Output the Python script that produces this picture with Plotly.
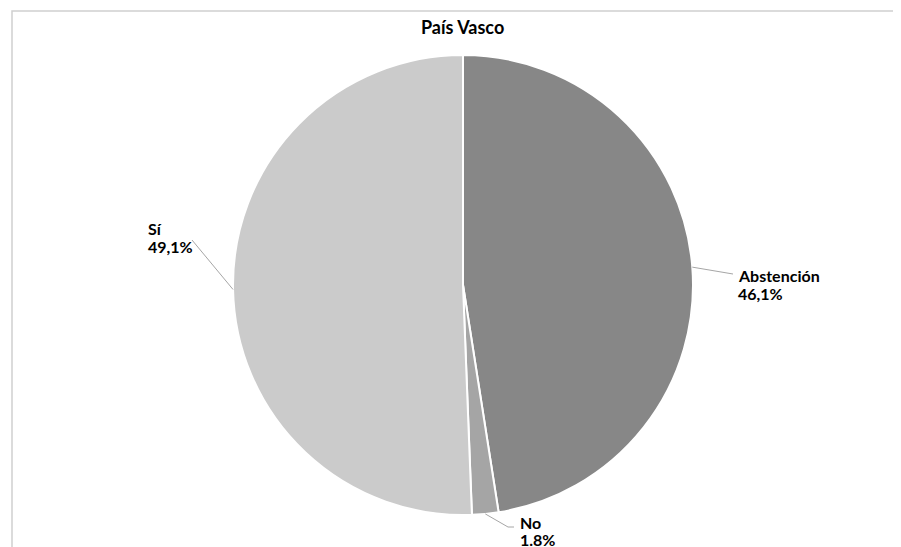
import math
import plotly.graph_objects as go

# ---- data ----
title = "País Vasco"
labels = ["Abstención", "No", "Sí"]
values = [46.1, 1.8, 49.1]
value_texts = ["46,1%", "1.8%", "49,1%"]
colors = ["#878787", "#a5a5a5", "#cbcbcb"]

# ---- layout constants (screen px; page body adds an 8px offset) ----
W, H = 901, 547
OFF = 8
CX, CY, R = 463, 285, 230
FONT = "Lato"
# label text positions: left x, line-1 centre y, line-2 centre y; leader line polyline end
label_pos = {
    "Abstención": dict(x=736, y1=276, y2=293, pts=[(733, 274)]),
    "No": dict(x=518, y1=522, y2=539, pts=[(508, 527), (514, 527)]),
    "Sí": dict(x=146, y1=229, y2=246, pts=[(192, 240)]),
}

def px(x):
    return (x - OFF) / W

def py(y):
    return 1 - (y - OFF) / H

fig = go.Figure(go.Pie(
    labels=labels,
    values=values,
    sort=False,
    direction="clockwise",
    rotation=0,
    marker=dict(colors=colors, line=dict(color="#ffffff", width=2)),
    textinfo="none",
    hoverinfo="label+percent",
    showlegend=False,
    domain=dict(x=[px(CX - R), px(CX + R)], y=[py(CY + R), py(CY - R)]),
))

total = sum(values)
shapes = []
annotations = []
cum = 0.0
for lab, v, vt in zip(labels, values, value_texts):
    mid = (cum + v / 2) / total * 2 * math.pi
    cum += v
    ex = CX + R * math.sin(mid)
    ey = CY - R * math.cos(mid)
    p = label_pos[lab]
    pts = [(ex, ey)] + p["pts"]
    for (x0, y0), (x1, y1) in zip(pts[:-1], pts[1:]):
        shapes.append(dict(type="line", xref="paper", yref="paper",
                           x0=px(x0), y0=py(y0), x1=px(x1), y1=py(y1),
                           line=dict(color="#a6a6a6", width=1)))
    for txt, yy in ((lab, p["y1"]), (vt, p["y2"])):
        annotations.append(dict(
            text=f"<b>{txt}</b>", xref="paper", yref="paper",
            x=px(p["x"]), y=py(yy), xanchor="left", yanchor="middle",
            showarrow=False,
            font=dict(family=FONT, size=16, color="#000000"),
        ))

# outer frame
shapes.append(dict(type="rect", xref="paper", yref="paper",
                   x0=px(12), y0=py(570), x1=px(930), y1=py(11),
                   line=dict(color="#d0d0d0", width=1.5), fillcolor="rgba(0,0,0,0)"))

annotations.append(dict(
    text=f"<b>{title}</b>", xref="paper", yref="paper",
    x=px(463), y=py(27), xanchor="center", yanchor="middle", showarrow=False,
    font=dict(family=FONT, size=18, color="#000000"),
))

fig.update_layout(
    width=W, height=H,
    margin=dict(l=0, r=0, t=0, b=0),
    paper_bgcolor="#ffffff",
    plot_bgcolor="#ffffff",
    shapes=shapes,
    annotations=annotations,
)

fig.write_html("out.html")
